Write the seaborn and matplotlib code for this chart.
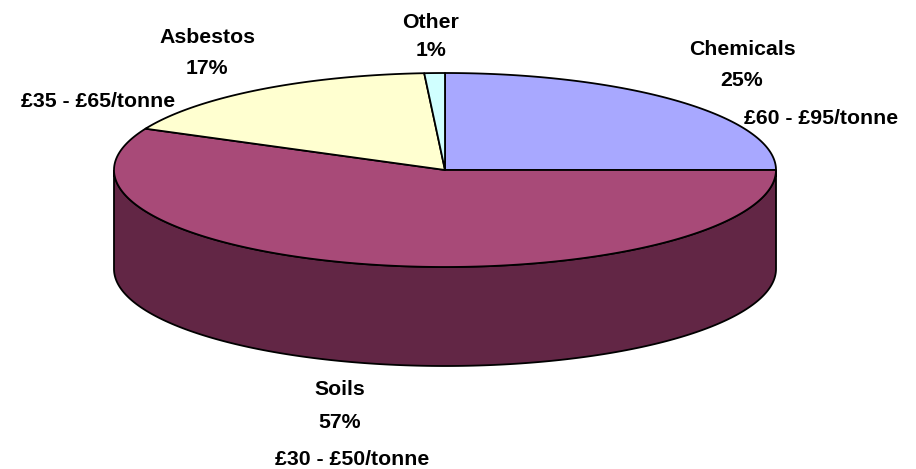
import numpy as np
import seaborn as sns
import matplotlib.pyplot as plt
from matplotlib.patches import Polygon

# waste categories, share of total (%) and disposal price ranges
categories = ['Chemicals', 'Soils', 'Asbestos', 'Other']
shares = [25, 57, 17, 1]
prices = ['£60 - £95/tonne', '£30 - £50/tonne', '£35 - £65/tonne', None]

top_colors = ['#a8a8ff', '#a84a78', '#ffffd0', '#d0ffff']
side_colors = ['#5a5a99', '#622645', '#99997c', '#7c9999']

# layout (pixels)
cx, cy, rx, ry, depth = 445, 170, 331, 97, 99
name_pos = {'Chemicals': (742, 55), 'Soils': (340, 395), 'Asbestos': (207, 43), 'Other': (431, 28)}
pct_pos = {'Chemicals': (742, 86), 'Soils': (340, 428), 'Asbestos': (207, 74), 'Other': (431, 56)}
price_pos = {'Chemicals': (821, 124), 'Soils': (352, 465), 'Asbestos': (98, 107)}

sns.set_theme(style='white')
plt.rcParams['font.family'] = ['Liberation Sans', 'DejaVu Sans']

fig = plt.figure(figsize=(9.16, 4.69), dpi=100)
ax = fig.add_axes([0, 0, 1, 1])
ax.set_xlim(0, 916)
ax.set_ylim(469, 0)
ax.axis('off')


def arc(t1, t2, dy=0, n=200):
    t = np.radians(np.linspace(t1, t2, n))
    return np.column_stack([cx + rx * np.cos(t), cy - ry * np.sin(t) + dy])


fracs = np.array(shares) / np.sum(shares)
ends = 90 - 360 * np.cumsum(fracs)
starts = np.concatenate([[90], ends[:-1]])

# sides (front half only)
for i in range(len(categories)):
    hi = min(starts[i], 0)
    lo = max(ends[i], -180)
    if lo < hi:
        pts = np.vstack([arc(hi, lo), arc(lo, hi, dy=depth)])
        ax.add_patch(Polygon(pts, closed=True, fc=side_colors[i], ec='black', lw=1.3))

# top faces
for i in range(len(categories)):
    pts = np.vstack([[cx, cy], arc(starts[i], ends[i])])
    ax.add_patch(Polygon(pts, closed=True, fc=top_colors[i], ec='black', lw=1.3, joinstyle='round'))

fs = 15.3
for i, name in enumerate(categories):
    x, y = name_pos[name]
    ax.text(x, y, name, ha='center', va='baseline', fontsize=fs, fontweight='bold', color='black')
    x, y = pct_pos[name]
    ax.text(x, y, f'{shares[i]}%', ha='center', va='baseline', fontsize=fs, fontweight='bold', color='black')
    if prices[i]:
        x, y = price_pos[name]
        ax.text(x, y, prices[i], ha='center', va='baseline', fontsize=fs, fontweight='bold', color='black')

plt.savefig('out.png', dpi=100)
